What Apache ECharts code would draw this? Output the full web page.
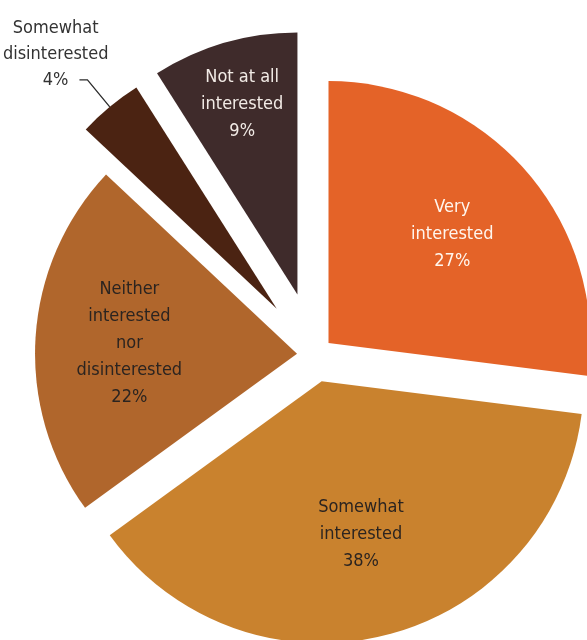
<!DOCTYPE html>
<html>
<head>
<meta charset="utf-8">
<script src="https://cdn.jsdelivr.net/npm/echarts@6/dist/echarts.min.js"></script>
<style>
  html, body { margin: 0; padding: 0; background: #fff; }
  #chart { width: 587px; height: 640px; }
</style>
</head>
<body>
<div id="chart"></div>
<script>
// data
const categories = ['Very interested', 'Somewhat interested', 'Neither interested nor disinterested', 'Somewhat disinterested', 'Not at all interested'];
const labelText = [['Very', 'interested'], ['Somewhat', 'interested'], ['Neither', 'interested', 'nor', 'disinterested'], ['Somewhat', 'disinterested'], ['Not at all', 'interested']];
const shares = [27, 38, 22, 4, 9];

// look
const colors = ['#e46328', '#c9822e', '#b0662c', '#4b2312', '#3f2b2b'];
const textColors = ['#fff6ee', '#2b2420', '#2b2420', '#333333', '#f2ebe6'];
const explode = [18, 27, 18, 60, 63];     // px each slice is pulled out
const labelDist = [165, 158, 168, 0, 198]; // px from slice tip to label centre
const outside = [false, false, false, true, false];
const pieCenter = [315, 355];
const pieRadius = 262;
const fontFamily = '"Liberation Sans Narrow", "DejaVu Sans Condensed", sans-serif';
const fontSize = 18;

const total = shares.reduce((a, b) => a + b, 0);
const clear = 'rgba(0,0,0,0)';

function labelFor(k) {
  return labelText[k].join('\n') + '\n' + shares[k] + '%';
}

const series = [];
let cum = 0;
shares.forEach((v, k) => {
  const mid = (cum + v / 2) / total * 2 * Math.PI;
  cum += v;
  const c = [pieCenter[0] + explode[k] * Math.sin(mid), pieCenter[1] - explode[k] * Math.cos(mid)];

  // the slice itself
  series.push({
    type: 'pie',
    center: c,
    radius: pieRadius,
    startAngle: 90,
    clockwise: true,
    silent: true,
    animation: false,
    avoidLabelOverlap: false,
    data: shares.map((s, i) => ({
      name: categories[i],
      value: s,
      itemStyle: { color: i === k ? colors[i] : clear, borderWidth: 0 },
      label: {
        show: i === k && outside[k],
        position: 'outside',
        alignTo: 'none',
        distanceToLabelLine: -29,
        formatter: labelText[i].map(t => '{c|' + t + '}').join('\n') + '\n{c|' + s + '%}',
        padding: [0, 0, 52, 0],
        rich: {
          c: { align: 'center', fontSize: fontSize, lineHeight: 26, fontFamily: fontFamily, color: textColors[i] }
        }
      },
      labelLine: {
        show: i === k && outside[k],
        length: 35,
        length2: 8,
        lineStyle: { color: '#2b2b2b', width: 1.3 }
      }
    }))
  });

  // invisible carrier for the inside label
  if (!outside[k]) {
    series.push({
      type: 'pie',
      center: c,
      radius: 2 * (labelDist[k] - 3),
      startAngle: 90,
      clockwise: true,
      silent: true,
      animation: false,
      avoidLabelOverlap: false,
      data: shares.map((s, i) => ({
        name: categories[i],
        value: s,
        itemStyle: { color: clear, borderWidth: 0 },
        label: {
          show: i === k,
          position: 'inside',
          formatter: labelFor(i),
          fontSize: fontSize,
          lineHeight: 27,
          fontFamily: fontFamily,
          color: textColors[i],
          align: 'center'
        },
        labelLine: { show: false }
      }))
    });
  }
});

const chart = echarts.init(document.getElementById('chart'));
chart.setOption({
  backgroundColor: '#ffffff',
  series: series
});
window.addEventListener('resize', () => chart.resize());
</script>
</body>
</html>
